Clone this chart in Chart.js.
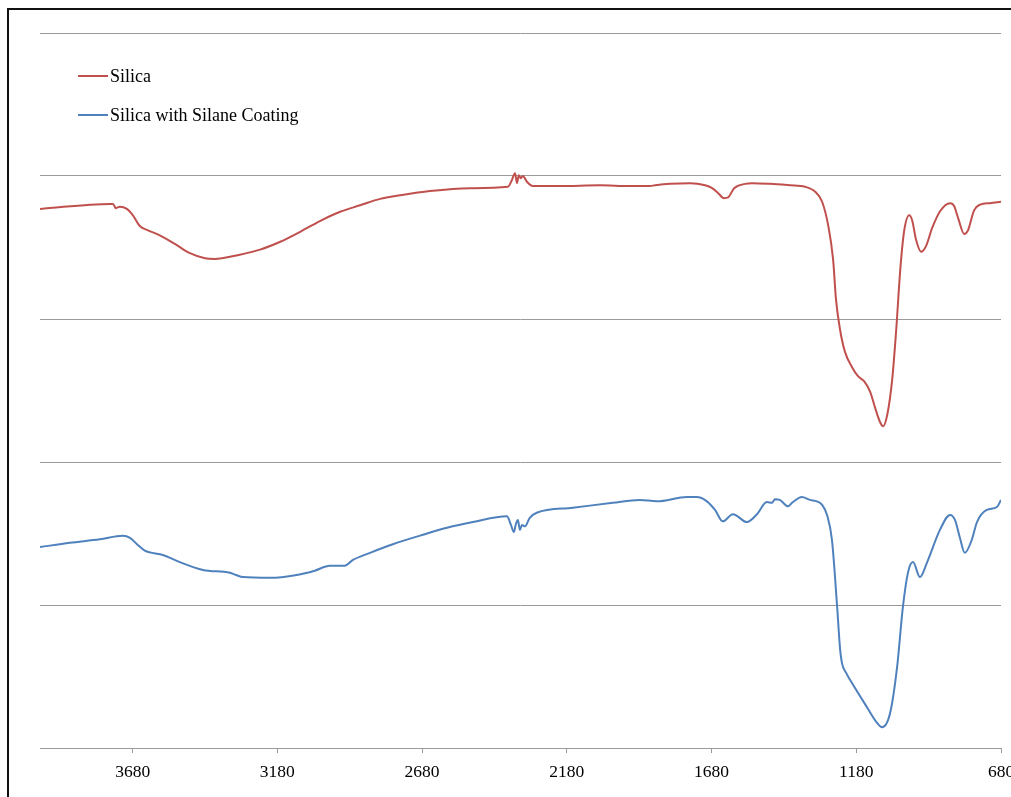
<!DOCTYPE html>
<html>
<head>
<meta charset="utf-8">
<script src="https://cdn.jsdelivr.net/npm/chart.js@4/dist/chart.umd.min.js"></script>
<style>
  html, body { margin: 0; padding: 0; background: #fff; overflow: hidden; }
  #frame { position: absolute; left: 7px; top: 8px; width: 1100px; height: 900px; border: 2px solid #111; box-sizing: border-box; }
  #wrap { position: absolute; left: 0; top: 0; width: 1040px; height: 797px; }
</style>
</head>
<body>
<div id="frame"></div>
<div id="wrap"><canvas id="c" width="1040" height="797"></canvas></div>
<script>
// Data (wavenumber cm-1, relative transmittance)
const seriesNames = ["Silica", "Silica with Silane Coating"];
const xTickValues = [3680, 3180, 2680, 2180, 1680, 1180, 680];

const silicaWn = [4000,3758,3748,3738,3724,3700,3679,3655,3627,3586,3534,3482,3430,3395,3344,3240,3170,3101,3033,2963,2894,2825,2756,2653,2515,2383,2370,2359,2352,2346,2339,2332,2318,2297,2204,2066,1962,1893,1875,1823,1754,1702,1678,1657,1637,1623,1602,1564,1540,1478,1409,1357,1322,1298,1277,1260,1250,1236,1219,1195,1174,1153,1132,1115,1098,1087,1073,1056,1042,1028,1015,997,987,973,956,939,918,890,856,842,828,807,794,773,752,718,680];
const silicaT = [75.4,76.1,76.1,75.5,75.7,75.4,74.5,73.0,72.4,71.7,70.5,69.2,68.5,68.4,68.7,69.7,70.8,72.2,73.7,75.0,75.9,76.8,77.3,77.9,78.3,78.5,79.4,80.4,79.0,80.1,79.7,80.0,79.2,78.6,78.6,78.7,78.6,78.6,78.7,78.9,79.0,78.7,78.3,77.6,76.9,77.0,78.3,78.9,79.0,78.9,78.7,78.5,77.8,76.4,73.1,68.3,62.7,58.5,55.4,53.3,52.0,51.3,49.8,47.6,45.6,45.0,46.6,51.5,58.5,66.9,72.2,74.5,73.8,71.0,69.4,70.2,72.7,75.1,76.2,75.8,74.1,71.9,72.4,75.2,76.0,76.2,76.4];

const coatedWn = [4000,3897,3793,3714,3689,3665,3638,3575,3517,3437,3344,3323,3299,3206,3113,3051,2999,2947,2919,2860,2781,2687,2594,2504,2387,2373,2363,2356,2349,2342,2335,2325,2308,2284,2159,2021,1928,1869,1765,1731,1696,1668,1641,1606,1558,1523,1489,1471,1461,1444,1416,1399,1368,1340,1316,1298,1281,1264,1246,1236,1229,1215,1201,1143,1108,1091,1063,1039,1019,1001,984,960,936,891,856,839,822,805,781,763,729,694,680];
const coatedT = [28.1,28.7,29.2,29.7,29.4,28.5,27.6,27.0,26.0,24.9,24.5,24.2,23.9,23.8,24.2,24.8,25.5,25.5,26.3,27.3,28.5,29.7,30.8,31.6,32.4,31.2,30.2,31.3,31.9,30.5,31.2,31.0,32.2,32.9,33.6,34.3,34.7,34.5,35.1,35.1,34.5,33.3,31.7,32.7,31.6,32.7,34.4,34.3,34.8,34.7,33.8,34.4,35.1,34.7,34.5,34.0,32.6,29.1,19.7,13.9,11.8,10.5,9.5,5.7,3.5,2.9,4.9,11.3,19.7,24.6,26.0,23.9,25.9,30.5,32.6,31.9,29.4,27.3,29.1,31.6,33.3,33.7,34.7];

const colors = ["#C0504D", "#4F81BD"];
const FONT = "'Liberation Serif', 'Times New Roman', serif";

function pts(xs, ys) { return xs.map((x, i) => ({ x: x, y: ys[i] })); }

const legendPlugin = {
  id: 'manualLegend',
  afterDraw(chart) {
    const ctx = chart.ctx;
    const ys = [76, 115];
    ctx.save();
    chart.data.datasets.forEach((ds, i) => {
      ctx.strokeStyle = ds.borderColor;
      ctx.lineWidth = 2;
      ctx.beginPath();
      ctx.moveTo(78, ys[i]);
      ctx.lineTo(108, ys[i]);
      ctx.stroke();
      ctx.fillStyle = "#000";
      ctx.font = "18px " + FONT;
      ctx.textBaseline = "middle";
      ctx.textAlign = "left";
      ctx.fillText(ds.label, 110, ys[i] + 1);
    });
    ctx.restore();
  }
};

new Chart(document.getElementById('c'), {
  type: 'line',
  data: {
    datasets: [
      { label: seriesNames[0], data: pts(silicaWn, silicaT), borderColor: colors[0], borderWidth: 2, pointRadius: 0, cubicInterpolationMode: 'monotone', fill: false },
      { label: seriesNames[1], data: pts(coatedWn, coatedT), borderColor: colors[1], borderWidth: 2, pointRadius: 0, cubicInterpolationMode: 'monotone', fill: false }
    ]
  },
  options: {
    responsive: false,
    animation: false,
    events: [],
    layout: { padding: { left: 40, top: 33, right: 39, bottom: 0 } },
    plugins: { legend: { display: false }, tooltip: { enabled: false } },
    scales: {
      x: {
        type: 'linear',
        reverse: true,
        min: 680,
        max: 4000,
        afterBuildTicks(scale) { scale.ticks = xTickValues.map(v => ({ value: v })); },
        afterFit(scale) { scale.height = 49; },
        grid: { drawOnChartArea: false, drawTicks: true, tickLength: 5, color: '#9a9a9a', lineWidth: 1 },
        border: { display: true, color: '#9a9a9a', width: 1 },
        ticks: { color: '#000', font: { family: FONT, size: 17.5 }, padding: 9, maxRotation: 0, autoSkip: false, callback: v => String(v) }
      },
      y: {
        min: 0,
        max: 100,
        afterFit(scale) { scale.width = 0; },
        ticks: { display: false, stepSize: 20 },
        grid: { drawTicks: false, color: '#9a9a9a', lineWidth: 1 },
        border: { display: false }
      }
    }
  },
  plugins: [legendPlugin]
});
</script>
</body>
</html>
